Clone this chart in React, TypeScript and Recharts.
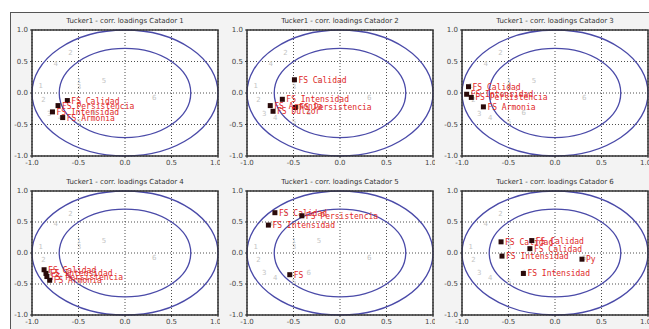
import React from "react";
import {
  CartesianGrid,
  ReferenceArea,
  Scatter,
  ScatterChart,
  XAxis,
  YAxis,
} from "recharts";

// axis ticks shared by every panel
const axisTicks = [-1, -0.5, 0, 0.5, 1];
// correlation circles: 100% and 50% explained variance
const circleRadii = [1, 0.7071];

const panelTitles = [
  "Tucker1 - corr. loadings Catador 1",
  "Tucker1 - corr. loadings Catador 2",
  "Tucker1 - corr. loadings Catador 3",
  "Tucker1 - corr. loadings Catador 4",
  "Tucker1 - corr. loadings Catador 5",
  "Tucker1 - corr. loadings Catador 6",
];

// grey background points (other assessors)
const greyPoints = [
  { x: -0.61, y: 0.65, label: "2" },
  { x: -0.77, y: 0.48, label: "4" },
  { x: -0.52, y: 0.21, label: "1" },
  { x: -0.52, y: 0.11, label: "3" },
  { x: -0.25, y: 0.21, label: "5" },
  { x: 0.29, y: -0.07, label: "6" },
  { x: -0.93, y: 0.12, label: "1" },
  { x: -0.9, y: -0.1, label: "2" },
  { x: -0.84, y: -0.31, label: "3" },
  { x: -0.72, y: -0.38, label: "4" },
  { x: -0.52, y: -0.45, label: "5" },
  { x: -0.36, y: -0.3, label: "6" },
];

const catador1 = [
  { x: -0.62, y: -0.12, label: "FS Calidad" },
  { x: -0.72, y: -0.2, label: "FS Persistencia" },
  { x: -0.78, y: -0.3, label: "FS Intensidad" },
  { x: -0.67, y: -0.39, label: "FS Armonia" },
];
const catador2 = [
  { x: -0.49, y: 0.21, label: "FS Calidad" },
  { x: -0.62, y: -0.1, label: "FS Intensidad" },
  { x: -0.48, y: -0.23, label: "FS Persistencia" },
  { x: -0.75, y: -0.2, label: "FS Armonia" },
  { x: -0.72, y: -0.29, label: "FS Dulzor" },
];
const catador3 = [
  { x: -0.93, y: 0.1, label: "FS Calidad" },
  { x: -0.95, y: -0.02, label: "FS Intensidad" },
  { x: -0.9, y: -0.07, label: "FS Persistencia" },
  { x: -0.77, y: -0.22, label: "FS Armonia" },
];
const catador4 = [
  { x: -0.87, y: -0.27, label: "FS Calidad" },
  { x: -0.85, y: -0.33, label: "FS Intensidad" },
  { x: -0.84, y: -0.38, label: "FS Persistencia" },
  { x: -0.81, y: -0.44, label: "FS Armonia" },
];
const catador5 = [
  { x: -0.7, y: 0.65, label: "FS Calidad" },
  { x: -0.41, y: 0.6, label: "FS Persistencia" },
  { x: -0.77, y: 0.45, label: "FS Intensidad" },
  { x: -0.54, y: -0.35, label: "FS" },
];
const catador6 = [
  { x: -0.58, y: 0.18, label: "FS Calidad" },
  { x: -0.25, y: 0.2, label: "FS Calidad" },
  { x: -0.27, y: 0.07, label: "FS Calidad" },
  { x: -0.57, y: -0.05, label: "FS Intensidad" },
  { x: 0.29, y: -0.1, label: "Py" },
  { x: -0.34, y: -0.33, label: "FS Intensidad" },
];

const panelData = [catador1, catador2, catador3, catador4, catador5, catador6];

const colLeft = [0, 215, 430];
const rowTop = [0, 161];
const rowPlotH = [126, 124];
const plotW = 186;
const chartW = 220;

const fmt = (v: number) => v.toFixed(1);

const Ellipse = (props: any) => {
  const { x, y, width, height } = props;
  return (
    <ellipse
      cx={x + width / 2}
      cy={y + height / 2}
      rx={width / 2}
      ry={height / 2}
      fill="none"
      stroke="#4a4aa8"
      strokeWidth={1.3}
    />
  );
};

const GreyMark = (props: any) => {
  const { cx, cy } = props;
  const label = props.payload?.label ?? props.label;
  return (
    <text x={cx} y={cy + 3} fontSize={7} fill="#c4c4c4" fontFamily="DejaVu Sans">
      {label}
    </text>
  );
};

const RedMark = (props: any) => {
  const { cx, cy } = props;
  const label = props.payload?.label ?? props.label;
  return (
    <g>
      <text
        x={cx + 4}
        y={cy + 3}
        fontSize={8}
        fill="#e02828"
        fontFamily="DejaVu Sans Mono"
      >
        {label}
      </text>
      <rect x={cx - 2.5} y={cy - 2.5} width={5} height={5} fill="#2a0a0a" />
    </g>
  );
};

function Panel({ idx }: { idx: number }) {
  const col = idx % 3;
  const row = Math.floor(idx / 3);
  const plotH = rowPlotH[row];
  const chartH = 30 + plotH + 12;
  const tickStyle = { fontSize: 7, fill: "#444", fontFamily: "DejaVu Sans" };
  return (
    <div
      style={{
        position: "absolute",
        left: colLeft[col],
        top: rowTop[row],
        width: chartW,
        height: chartH,
      }}
    >
      <div
        style={{
          position: "absolute",
          left: 32,
          width: plotW,
          top: 17,
          textAlign: "center",
          fontSize: 7,
          color: "#333",
          fontFamily: "DejaVu Sans",
          lineHeight: "9px",
        }}
      >
        {panelTitles[idx]}
      </div>
      <ScatterChart
        width={chartW}
        height={chartH}
        margin={{ top: 30, right: chartW - 32 - plotW, bottom: 0, left: 5 }}
      >
        <CartesianGrid
          stroke="#222"
          strokeDasharray="1 2"
          strokeWidth={0.8}
          fill="#fff"
          fillOpacity={1}
        />
        <XAxis
          type="number"
          dataKey="x"
          domain={[-1, 1]}
          ticks={axisTicks}
          tickFormatter={fmt}
          height={12}
          tick={tickStyle}
          tickSize={2}
          axisLine={false}
          tickLine={{ stroke: "#333" }}
          allowDataOverflow
        />
        <YAxis
          type="number"
          dataKey="y"
          domain={[-1, 1]}
          ticks={axisTicks}
          tickFormatter={fmt}
          width={27}
          tick={tickStyle}
          tickSize={2}
          axisLine={false}
          tickLine={{ stroke: "#333" }}
          allowDataOverflow
        />
        {circleRadii.map((r) => (
          <ReferenceArea
            key={r}
            x1={-r}
            x2={r}
            y1={-r}
            y2={r}
            ifOverflow="visible"
            shape={<Ellipse />}
          />
        ))}
        <Scatter
          data={greyPoints}
          shape={<GreyMark />}
          isAnimationActive={false}
        />
        <Scatter
          data={panelData[idx]}
          shape={<RedMark />}
          isAnimationActive={false}
        />
        <ReferenceArea
          x1={-1}
          x2={1}
          y1={-1}
          y2={1}
          fill="none"
          fillOpacity={0}
          stroke="#333"
          strokeWidth={1.5}
          ifOverflow="visible"
        />
      </ScatterChart>
    </div>
  );
}

export default function App() {
  return (
    <div
      style={{
        position: "fixed",
        left: 0,
        top: 0,
        width: 649,
        height: 329,
        overflow: "hidden",
        background: "#fff",
      }}
    >
      <div
        style={{
          position: "absolute",
          left: 10,
          top: 12,
          width: 700,
          height: 400,
          background: "#f3f3f3",
          borderLeft: "1px solid #555",
          borderTop: "1px solid #555",
        }}
      />
      {panelTitles.map((_, i) => (
        <Panel key={i} idx={i} />
      ))}
    </div>
  );
}
